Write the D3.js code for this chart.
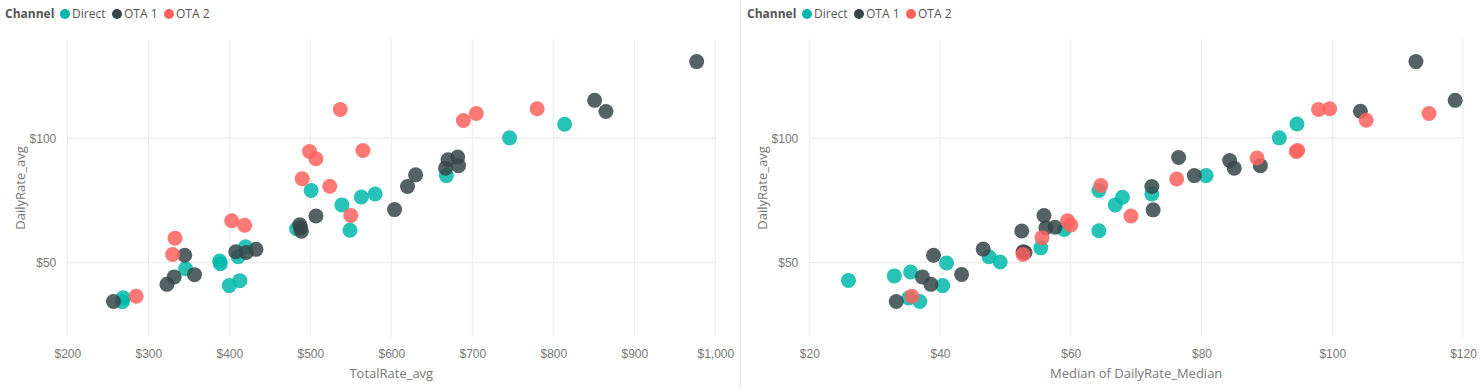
<!DOCTYPE html>
<html>
<head>
<meta charset="utf-8">
<script src="https://cdn.jsdelivr.net/npm/d3@7"></script>
<style>
  body { margin: 0; background: #fff; }
  svg { display: block; font-family: "Segoe UI", "Open Sans", sans-serif; }
  .tick text { fill: #777; font-size: 12px; }
  .axisTitle { fill: #777; font-size: 13px; }
  .legend text { fill: #555; font-size: 12px; }
</style>
</head>
<body>
<svg id="chart" width="1483" height="389"></svg>
<script>
/*    ========    DATA    =========    */

var CHANNELS = ["Direct", "OTA 1", "OTA 2"];
var COLORS = ["#01B8AA", "#374649", "#FD625E"];

// Left panel: [TotalRate_avg, DailyRate_avg]
var totalDirect = [
    [269, 35.8], [268, 34.2], [346, 47.5], [388, 50.6], [389, 49.5], [400, 40.7],
    [413, 42.7], [411, 52.3], [420, 56.3], [483, 63.6], [501, 79], [539, 73.2],
    [563, 76.4], [580, 77.6], [549, 63], [668, 85], [746, 100.2], [814, 105.7]
];
var totalOta1 = [
    [257, 34.3], [323, 41.2], [332, 44.2], [345, 52.9], [357, 45.1], [408, 54.3],
    [421, 54], [433, 55.3], [487, 65.2], [489, 62.6], [488, 64], [507, 68.7],
    [604, 71.3], [620, 80.6], [630, 85.3], [667, 88], [670, 91.4], [682, 92.5],
    [683, 89], [851, 115.3], [865, 110.8], [977, 130.9]
];
var totalOta2 = [
    [285, 36.4], [330, 53.2], [333, 59.8], [403, 66.8], [419, 65], [537, 111.6],
    [499, 94.7], [507, 91.8], [490, 83.7], [524, 80.7], [565, 95.1], [550, 68.9],
    [689, 107.2], [705, 110], [780, 111.9]
];

// Right panel: [Median of DailyRate_Median, DailyRate_avg]
var medianDirect = [
    [26, 42.8], [33, 44.6], [35.5, 46.2], [35.2, 35.7], [36.9, 34.3], [41, 49.8],
    [40.4, 40.7], [47.5, 52.3], [49.2, 50.2], [55.4, 55.9], [59, 63.3], [64.3, 62.8],
    [64.3, 79], [66.8, 73.2], [67.9, 76.3], [72.4, 77.6], [80.7, 85], [91.9, 100.2],
    [94.6, 105.8]
];
var medianOta1 = [
    [33.3, 34.3], [39, 52.9], [37.3, 44.2], [38.6, 41.2], [43.3, 45.2], [46.6, 55.4],
    [52.5, 62.7], [52.7, 54.3], [53, 54], [55.9, 68.9], [56.2, 64], [57.6, 64.2],
    [72.4, 80.6], [72.6, 71.2], [76.5, 92.3], [78.9, 85], [84.3, 91.1], [85, 88],
    [89, 89], [104.3, 110.9], [112.8, 130.9], [118.8, 115.3]
];
var medianOta2 = [
    [35.7, 36.4], [52.7, 53.2], [55.6, 60], [59.5, 66.8], [60, 65.1], [69.2, 68.7],
    [64.6, 81], [76.2, 83.6], [88.5, 92.1], [94.5, 94.7], [94.7, 95.1], [97.9, 111.6],
    [99.6, 111.9], [105.2, 107.3], [114.8, 110]
];

var Y_DOMAIN = [20, 140];
var Y_TICKS = [50, 100];
var TOTAL_DOMAIN = [200, 1000];
var TOTAL_TICKS = [200, 300, 400, 500, 600, 700, 800, 900, 1000];
var MEDIAN_DOMAIN = [20, 120];
var MEDIAN_TICKS = [20, 40, 60, 80, 100, 120];

/*    ========    SETTINGS    =========    */

var svg = d3.select("#chart");
var RADIUS = 7.5;
var PLOT_TOP = 39;
var PLOT_BOTTOM = 337;

var dollar = function(d) { return "$" + d3.format(",")(d); };

/*    ========    FUNCTIONS    =========    */

function drawLegend(x0) {
    var g = svg.append("g").attr("class", "legend")
        .attr("transform", "translate(" + x0 + ", 14)");

    g.append("text").attr("x", 0).attr("dy", "0.35em")
        .style("font-weight", "bold").text("Channel");

    var offsets = [60, 112, 164];
    CHANNELS.forEach(function(c, i) {
        g.append("circle").attr("cx", offsets[i]).attr("cy", 0)
            .attr("r", 5).attr("fill", COLORS[i]);
        g.append("text").attr("x", offsets[i] + 7).attr("dy", "0.35em").text(c);
    });
}

function drawPanel(p) {
    var xscale = d3.scaleLinear().domain(p.domain).range([p.left, p.right]);
    var yscale = d3.scaleLinear().domain(Y_DOMAIN).range([PLOT_BOTTOM, PLOT_TOP]);

    var g = svg.append("g");

    // gridlines
    g.selectAll("line.vgrid").data(p.ticks).enter().append("line")
        .attr("x1", function(d) { return xscale(d); })
        .attr("x2", function(d) { return xscale(d); })
        .attr("y1", PLOT_TOP).attr("y2", PLOT_BOTTOM)
        .attr("stroke", "#eaeaea").attr("stroke-width", 1);

    g.selectAll("line.hgrid").data(Y_TICKS).enter().append("line")
        .attr("x1", p.left).attr("x2", p.right)
        .attr("y1", function(d) { return yscale(d); })
        .attr("y2", function(d) { return yscale(d); })
        .attr("stroke", "#eeeeee").attr("stroke-width", 1.5);

    // axes (labels only)
    var xAxis = d3.axisBottom(xscale).tickValues(p.ticks).tickFormat(dollar)
        .tickSize(0).tickPadding(6);
    var yAxis = d3.axisLeft(yscale).tickValues(Y_TICKS).tickFormat(dollar)
        .tickSize(0).tickPadding(11);

    g.append("g").attr("transform", "translate(0, 343)").call(xAxis)
        .call(function(a) { a.select(".domain").remove(); });
    g.append("g").attr("transform", "translate(" + p.left + ", 0)").call(yAxis)
        .call(function(a) { a.select(".domain").remove(); });

    g.selectAll(".tick text").style("font-family", null);

    // axis titles
    g.append("text").attr("class", "axisTitle")
        .attr("x", (p.left + p.right) / 2).attr("y", 378)
        .attr("text-anchor", "middle").text(p.xTitle);

    g.append("text").attr("class", "axisTitle")
        .attr("transform", "translate(" + p.yTitleX + ", " + (PLOT_TOP + PLOT_BOTTOM) / 2 + ") rotate(-90)")
        .attr("text-anchor", "middle").attr("dy", "0.35em").text("DailyRate_avg");

    // points
    p.series.forEach(function(s, i) {
        g.selectAll("circle.s" + i).data(s).enter().append("circle")
            .attr("class", "s" + i)
            .attr("cx", function(d) { return xscale(d[0]); })
            .attr("cy", function(d) { return yscale(d[1]); })
            .attr("r", RADIUS)
            .attr("fill", COLORS[i])
            .attr("fill-opacity", 0.85);
    });
}

/*    ========    RUN    =========    */

drawLegend(5);
drawLegend(747);

// panel divider
svg.append("line").attr("x1", 740.5).attr("x2", 740.5).attr("y1", 0).attr("y2", 389)
    .attr("stroke", "#e6e6e6");

drawPanel({
    left: 67.3, right: 715.3, domain: TOTAL_DOMAIN, ticks: TOTAL_TICKS,
    xTitle: "TotalRate_avg", yTitleX: 20,
    series: [totalDirect, totalOta1, totalOta2]
});

drawPanel({
    left: 809.3, right: 1463, domain: MEDIAN_DOMAIN, ticks: MEDIAN_TICKS,
    xTitle: "Median of DailyRate_Median", yTitleX: 762,
    series: [medianDirect, medianOta1, medianOta2]
});
</script>
</body>
</html>
